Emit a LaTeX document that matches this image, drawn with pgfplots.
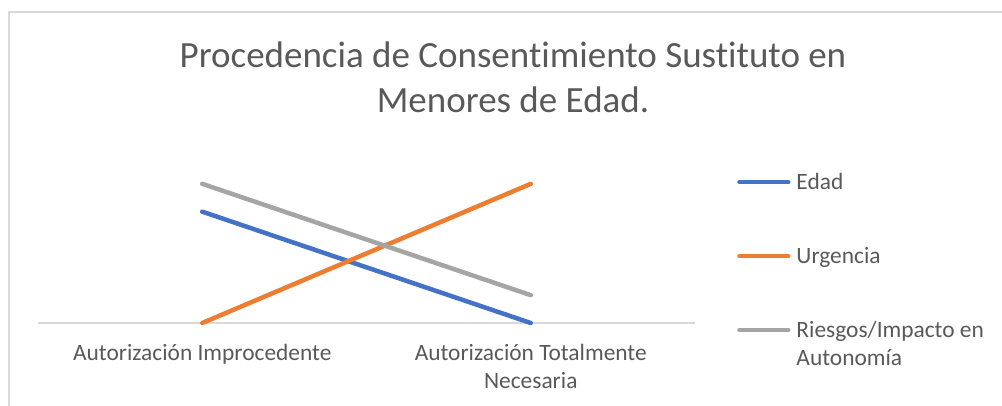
\documentclass[border=0pt]{standalone}
\usepackage{pgfplots}
\pgfplotsset{compat=1.18}
\usepackage{fontspec}
\setmainfont{Carlito}[Ligatures={TeX,NoCommon}]
\definecolor{cblue}{HTML}{4472C4}
\definecolor{corange}{HTML}{ED7D31}
\definecolor{cgray}{HTML}{A5A5A5}
\definecolor{ctext}{HTML}{595959}
\definecolor{cgrid}{HTML}{D9D9D9}
\begin{document}
\begin{tikzpicture}
\useasboundingbox (0,0) rectangle (1002pt,406pt);
\draw[cgrid, line width=1.2pt] (9pt,-5pt) -- (9pt,394pt) -- (1010pt,394pt);
\node[anchor=base, text=ctext, font=\fontsize{37}{45}\selectfont, inner sep=0pt] at (513pt,338pt) {Procedencia de Consentimiento Sustituto en};
\node[anchor=base, text=ctext, font=\fontsize{37}{45}\selectfont, inner sep=0pt] at (513pt,293pt) {Menores de Edad.};
\begin{axis}[
  at={(38pt,83pt)}, anchor=south west,
  width=657pt, height=167pt, scale only axis,
  xmin=-0.5, xmax=1.5, ymin=0, ymax=6,
  axis y line=none, axis x line=bottom,
  x axis line style={cgrid, line width=1.3pt, -},
  xtick={0,1},
  xticklabels={Autorización Improcedente, {\begin{tabular}[t]{@{}c@{}}Autorización Totalmente\\Necesaria\end{tabular}}},
  ytick=\empty,
  major tick length=0pt,
  xticklabel style={anchor=base, yshift=-38pt, text=ctext, font=\fontsize{23.4}{28}\selectfont, inner sep=0pt},
  clip=false,
  legend style={at={(1.064,0.904)}, anchor=north west, draw=none, fill=none, inner sep=0pt,
    row sep=51pt, column sep=6pt, font=\fontsize{23.4}{28}\selectfont, text=ctext,
    cells={anchor=base west},
    nodes={inner sep=0pt, text height=17pt, text depth=6pt}},
  legend image code/.code={\draw[#1, line cap=round] (2.25pt,7pt) -- (51pt,7pt);},
]
\addplot[cblue, line width=4.5pt, line cap=round] coordinates {(0,4) (1,0)};
\addplot[corange, line width=4.5pt, line cap=round] coordinates {(0,0) (1,5)};
\addplot[cgray, line width=4.5pt, line cap=round] coordinates {(0,5) (1,1)};
\legend{Edad, Urgencia, {\begin{tabular}[t]{@{}l@{}}Riesgos/Impacto en\\Autonomía\end{tabular}}}
\end{axis}
\end{tikzpicture}
\end{document}
